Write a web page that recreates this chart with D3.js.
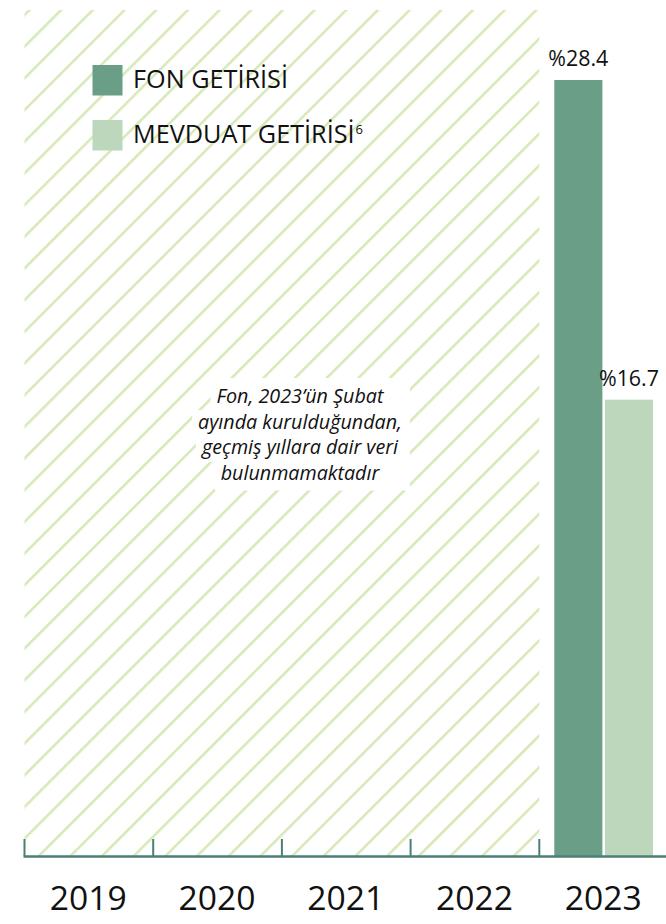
<!DOCTYPE html>
<html>
<head>
<meta charset="utf-8">
<script src="https://cdn.jsdelivr.net/npm/d3@7"></script>
<style>
  html, body { margin: 0; padding: 0; background: #fff; }
  svg { display: block; font-family: "Open Sans", "Noto Sans", sans-serif; }
</style>
</head>
<body>
<svg id="chart" width="666" height="924"></svg>
<script>
"use strict";

// chart data
var years = ["2019", "2020", "2021", "2022", "2023"];
var series = ["FON GETİRİSİ", "MEVDUAT GETİRİSİ"];
var fonValues = [null, null, null, null, 28.4];
var mevduatValues = [null, null, null, null, 16.7];
var noDataYears = ["2019", "2020", "2021", "2022"];
var noteLines = ["Fon, 2023’ün Şubat", "ayında kurulduğundan,", "geçmiş yıllara dair veri", "bulunmamaktadır"];

var colors = ["#6a9e86", "#bcd7bb"];
var hatchColor = "#d5e9b6";
var axisColor = "#4b7f74";

var svg = d3.select("#chart");
var baseY = 856;

// scale a text's font so it spans the wanted width
function fitWidth(sel, wanted) {
    var fs = +sel.attr("font-size");
    var w = sel.node().getComputedTextLength();
    return fs * wanted / w;
}

var x = d3.scaleBand()
    .domain(years)
    .range([24.5, 668])
    .padding(0);

var inner = d3.scaleBand()
    .domain(series)
    .range([15, x.bandwidth() - 15])
    .paddingInner(0.05);

var y = d3.scaleLinear()
    .domain([0, 28.4])
    .range([baseY, 80]);

// hatch pattern for years without data
var defs = svg.append("defs");
var gap = 22.4;
var pat = defs.append("pattern")
    .attr("id", "hatch")
    .attr("patternUnits", "userSpaceOnUse")
    .attr("width", gap)
    .attr("height", gap)
    .attr("patternTransform", "translate(6,0) rotate(45)");
pat.append("rect")
    .attr("x", 0).attr("y", 0)
    .attr("width", 2.5)
    .attr("height", gap)
    .attr("fill", hatchColor);

var hx0 = x(noDataYears[0]);
var hx1 = x(noDataYears[noDataYears.length - 1]) + x.bandwidth();
svg.append("rect")
    .attr("x", hx0)
    .attr("y", 10)
    .attr("width", hx1 - hx0)
    .attr("height", baseY - 10)
    .attr("fill", "url(#hatch)");

// bars
var rows = years.map(function (yr, i) {
    return { year: yr, values: [fonValues[i], mevduatValues[i]] };
});

var groups = svg.selectAll(".yearGroup")
    .data(rows)
    .enter().append("g")
    .attr("class", "yearGroup")
    .attr("transform", function (d) { return "translate(" + x(d.year) + ",0)"; });

var bars = groups.selectAll(".bar")
    .data(function (d) {
        return d.values.map(function (v, i) { return { key: series[i], value: v, idx: i }; })
            .filter(function (e) { return e.value !== null; });
    })
    .enter();

bars.append("rect")
    .attr("class", "bar")
    .attr("x", function (d) { return inner(d.key); })
    .attr("width", inner.bandwidth())
    .attr("y", function (d) { return y(d.value); })
    .attr("height", function (d) { return baseY - y(d.value); })
    .attr("fill", function (d) { return colors[d.idx]; });

var valueLabels = bars.append("text")
    .attr("class", "valueLabel")
    .attr("x", function (d) { return inner(d.key) + inner.bandwidth() / 2; })
    .attr("y", function (d) { return y(d.value) - 14; })
    .attr("text-anchor", "middle")
    .attr("font-size", 21)
    .attr("fill", "#111")
    .text(function (d) { return "%" + d.value.toFixed(1); });
var vfs = fitWidth(d3.select(valueLabels.nodes()[0]), 60);
valueLabels.attr("font-size", vfs)
    .each(function () {
        // keep labels inside the picture
        var box = this.getBBox();
        var tr = this.parentNode.getCTM();
        var right = box.x + box.width + tr.e;
        if (right > 665) {
            d3.select(this).attr("x", +d3.select(this).attr("x") - (right - 665));
        }
    });

// axis
var axisG = svg.append("g").attr("class", "axis");
axisG.append("line")
    .attr("x1", 23.5).attr("x2", 666)
    .attr("y1", baseY + 0.5).attr("y2", baseY + 0.5)
    .attr("stroke", axisColor)
    .attr("stroke-width", 2.4);
axisG.selectAll(".tick")
    .data(years)
    .enter().append("line")
    .attr("class", "tick")
    .attr("x1", function (d) { return x(d); })
    .attr("x2", function (d) { return x(d); })
    .attr("y1", 839)
    .attr("y2", baseY)
    .attr("stroke", axisColor)
    .attr("stroke-width", 2);
var yearLabels = axisG.selectAll(".yearLabel")
    .data(years)
    .enter().append("text")
    .attr("class", "yearLabel")
    .attr("x", function (d) { return x(d) + x.bandwidth() / 2 - 0.5; })
    .attr("y", 910)
    .attr("text-anchor", "middle")
    .attr("font-size", 33)
    .attr("fill", "#111")
    .text(function (d) { return d; });
yearLabels.attr("font-size", fitWidth(d3.select(yearLabels.nodes()[0]), 77));

// note over the hatched area
var note = svg.append("g").attr("class", "note");
var noteCx = 300;
var lineH = 25.7;
var firstBase = 403;
var noteText = note.selectAll("text")
    .data(noteLines)
    .enter().append("text")
    .attr("x", noteCx)
    .attr("y", function (d, i) { return firstBase + i * lineH; })
    .attr("text-anchor", "middle")
    .attr("font-size", 18)
    .attr("font-style", "italic")
    .attr("fill", "#111")
    .text(function (d) { return d; });
noteText.attr("font-size", fitWidth(d3.select(noteText.nodes()[1]), 204));
var widths = noteText.nodes().map(function (n) { return n.getComputedTextLength(); });
var rightEdge = noteCx + d3.max(widths) / 2 + 8;
widths.forEach(function (w, i) {
    var top = i === 0 ? 378 : firstBase + (i - 1) * lineH + 7;
    var bottom = i === noteLines.length - 1 ? 490 : firstBase + i * lineH + 7;
    note.insert("rect", "text")
        .attr("x", noteCx - w / 2 - 6)
        .attr("y", top)
        .attr("width", rightEdge - (noteCx - w / 2 - 6))
        .attr("height", bottom - top + 0.5)
        .attr("fill", "#fff");
});

// legend
var legend = svg.append("g").attr("class", "legend")
    .attr("transform", "translate(92.5,65)");
var li = legend.selectAll(".item")
    .data(series)
    .enter().append("g")
    .attr("class", "item")
    .attr("transform", function (d, i) { return "translate(0," + (i * 55) + ")"; });
li.append("rect")
    .attr("width", 30)
    .attr("height", 30.5)
    .attr("fill", function (d, i) { return colors[i]; });
var lt = li.append("text")
    .attr("x", 40.5)
    .attr("y", 23)
    .attr("font-size", 25)
    .attr("fill", "#111")
    .text(function (d) { return d; });
lt.attr("font-size", fitWidth(d3.select(lt.nodes()[0]), 155));
lt.filter(function (d, i) { return i === 1; })
    .append("tspan")
    .attr("font-size", 13)
    .attr("dx", 1)
    .attr("dy", -9)
    .text("6");
</script>
</body>
</html>
